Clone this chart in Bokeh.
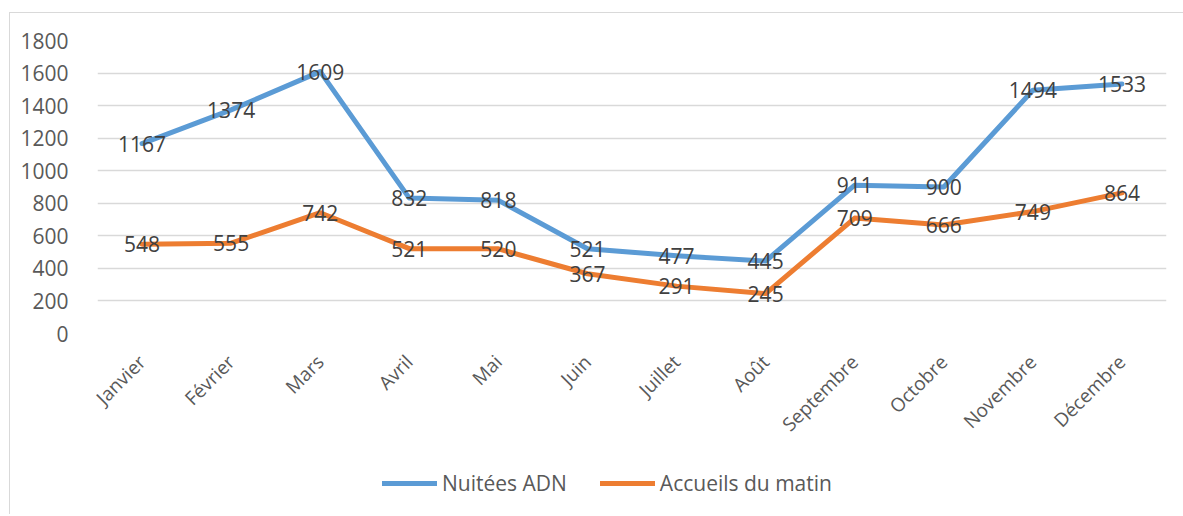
import math
from bokeh.plotting import figure
from bokeh.layouts import column
from bokeh.models import ColumnDataSource, Legend, LegendItem, FactorRange
from bokeh.core.properties import value
from bokeh.embed import file_html
from bokeh.resources import INLINE

months = ["Janvier", "Février", "Mars", "Avril", "Mai", "Juin", "Juillet", "Août",
          "Septembre", "Octobre", "Novembre", "Décembre"]
nuitees = [1167, 1374, 1609, 832, 818, 521, 477, 445, 911, 900, 1494, 1533]
accueils = [548, 555, 742, 521, 520, 367, 291, 245, 709, 666, 749, 864]
y_ticks = [0, 200, 400, 600, 800, 1000, 1200, 1400, 1600, 1800]
series_names = ["Nuitées ADN", "Accueils du matin"]

FONT = "Open Sans"
BLUE = "#5B9BD5"
ORANGE = "#ED7D31"

src = ColumnDataSource(dict(
    m=months, n=nuitees, a=accueils,
    nl=[str(v) for v in nuitees], al=[str(v) for v in accueils],
))

p = figure(
    x_range=FactorRange(*months, range_padding=0),
    y_range=(0, 1800),
    width=1173, height=445,
    output_backend="svg", toolbar_location=None,
    min_border_left=87, min_border_right=17, min_border_top=27, min_border_bottom=125,
)
p.outline_line_color = None
p.background_fill_color = "white"
p.border_fill_color = "white"

r1 = p.line("m", "n", source=src, line_color=BLUE, line_width=5, line_cap="round", line_join="round")
r2 = p.line("m", "a", source=src, line_color=ORANGE, line_width=5, line_cap="round", line_join="round")

for col in ("nl", "al"):
    ycol = "n" if col == "nl" else "a"
    p.text("m", ycol, text=col, source=src, text_align="center", text_baseline="middle",
           text_font=value(FONT), text_font_size="21px", text_color="#404040")

# axes
p.yaxis.ticker = y_ticks
p.yaxis.axis_line_color = None
p.yaxis.major_tick_line_color = None
p.yaxis.minor_tick_line_color = None
p.yaxis.major_label_standoff = 23
p.yaxis.major_label_text_font = FONT
p.yaxis.major_label_text_font_size = "21px"
p.yaxis.major_label_text_color = "#595959"

p.xaxis.axis_line_color = None
p.xaxis.major_tick_line_color = None
p.xaxis.major_label_orientation = math.pi / 4
p.xaxis.major_label_standoff = 19
p.xaxis.major_label_text_font = FONT
p.xaxis.major_label_text_font_size = "19px"
p.xaxis.major_label_text_color = "#595959"

p.xgrid.grid_line_color = None
p.ygrid.grid_line_color = "#d9d9d9"
p.ygrid.grid_line_width = 1.5
p.ygrid.ticker = y_ticks

# legend strip (its own small figure below the chart)
lf = figure(width=1173, height=56, x_range=(0, 1), y_range=(0, 1),
            output_backend="svg", toolbar_location=None,
            x_axis_location=None, y_axis_location=None,
            min_border_left=0, min_border_right=0, min_border_top=0, min_border_bottom=0)
lf.outline_line_color = None
lf.xgrid.grid_line_color = None
lf.ygrid.grid_line_color = None
# legend proxies: lines placed outside the visible range, used only for legend glyphs
lr1 = lf.line(x=[5, 6], y=[5, 6], line_color=BLUE, line_width=5, line_cap="round")
lr2 = lf.line(x=[5, 6], y=[5, 6], line_color=ORANGE, line_width=5, line_cap="round")

legend = Legend(
    items=[LegendItem(label=series_names[0], renderers=[lr1]),
           LegendItem(label=series_names[1], renderers=[lr2])],
    orientation="horizontal",
    location=(285, 17),
    glyph_width=55, glyph_height=20, label_height=20,
    label_standoff=5, spacing=33, padding=0, margin=0,
    border_line_color=None, background_fill_alpha=0,
    label_text_font=FONT, label_text_font_size="21px", label_text_color="#595959",
)
lf.add_layout(legend, "center")

layout = column(p, lf, spacing=0)
layout.styles = {"border-top": "1px solid #d9d9d9", "border-left": "1px solid #d9d9d9",
                 "margin-left": "9px", "margin-top": "12px"}

open("out.html", "w").write(file_html(layout, INLINE))
